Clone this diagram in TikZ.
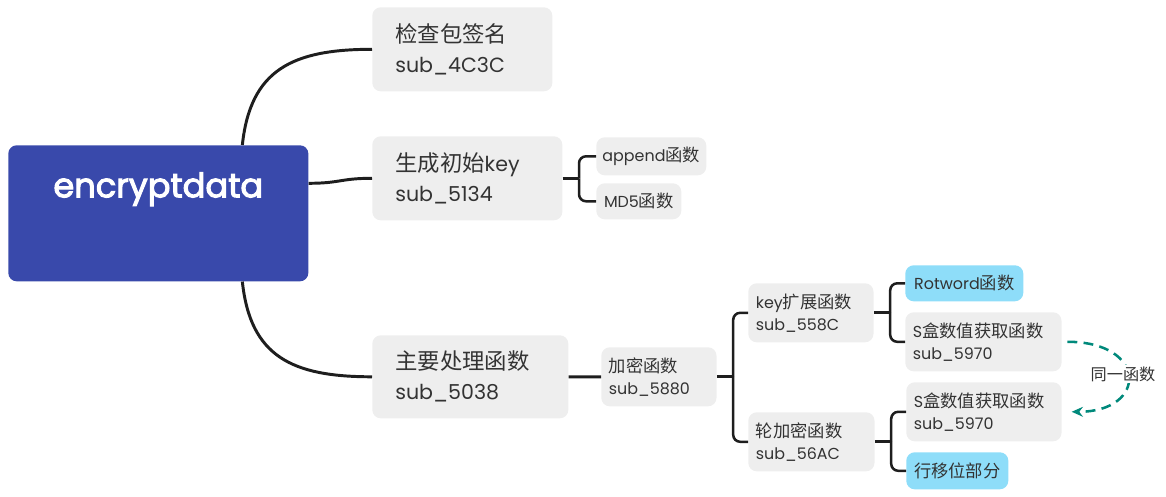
\documentclass[tikz,border=0pt]{standalone}
\usepackage{fontspec}
\setmainfont{Poppins}[Scale=0.92]
\newfontfamily\cjk{Noto Sans CJK SC}
\newfontfamily\rootfont{Poppins}[Scale=0.92, FakeBold=3]
\usetikzlibrary{arrows.meta}

\definecolor{rootblue}{HTML}{3949AB}
\definecolor{boxgray}{HTML}{EEEEEE}
\definecolor{leafblue}{HTML}{8EDDF9}
\definecolor{textgray}{HTML}{333333}
\definecolor{linedark}{HTML}{1E1E1E}
\definecolor{sameteal}{HTML}{00897B}

\begin{document}
\begin{tikzpicture}[
    x=0.025cm, y=-0.025cm,
    % --- Styles ---
    root box/.style={fill=rootblue, rounded corners=6pt, anchor=north west,
        text=white, font=\rootfont\fontsize{26pt}{30pt}\selectfont},
    % Two-line boxes, text flush left
    func box/.style={fill=boxgray, rounded corners=6pt, anchor=north west,
        text=textgray, align=left, inner ysep=0pt},
    big func/.style={func box, inner xsep=0.575cm,
        font=\fontsize{15.9pt}{21.3pt}\selectfont},
    small func/.style={func box, inner xsep=0.19cm,
        font=\fontsize{12.3pt}{15.6pt}\selectfont},
    % One-line leaves, text centred
    leaf box/.style={fill=boxgray, rounded corners=6pt, anchor=north west,
        text=textgray, inner sep=0pt, font=\fontsize{12.3pt}{15pt}\selectfont},
    hot leaf/.style={leaf box, fill=leafblue},
    branch line/.style={draw=linedark, line width=2.1pt},
    bracket line/.style={draw=linedark, line width=1.8pt, rounded corners=5pt},
    same line/.style={draw=sameteal, line width=1.8pt, dash pattern=on 7pt off 4.5pt,
        -{Stealth[length=8pt,width=7pt]}}
]

%================CANVAS================
\useasboundingbox (0,0) rectangle (1166,496);
%=====================================

% Root
\node[root box, minimum width=7.5cm, minimum height=3.4cm] (root) at (8,145)
    {\raisebox{0.4cm}[0pt][0pt]{encryptdata}};

% First level
\node[big func, text width=3.35cm, minimum height=2.1cm] (chk) at (372,7)
    {{\cjk 检查包签名}\\sub\_4C3C};
\node[big func, text width=3.6cm, minimum height=2.1cm] (gen) at (372,136)
    {{\cjk 生成初始}key\\sub\_5134};
\node[big func, text width=3.75cm, minimum height=2.075cm] (main) at (372,335)
    {{\cjk 主要处理函数}\\sub\_5038};

% Children of gen
\node[leaf box, minimum width=2.75cm, minimum height=0.95cm] (app) at (596,137)
    {append{\cjk 函数}};
\node[leaf box, minimum width=2.125cm, minimum height=0.9cm] (md5) at (596,183)
    {MD5{\cjk 函数}};

% Encryption chain
\node[small func, text width=2.5cm, minimum height=1.475cm] (enc) at (601,347)
    {{\cjk 加密函数}\\sub\_5880};
\node[small func, text width=2.75cm, minimum height=1.475cm] (key) at (748,283)
    {key{\cjk 扩展函数}\\sub\_558C};
\node[small func, text width=2.775cm, minimum height=1.475cm] (rnd) at (748,412)
    {{\cjk 轮加密函数}\\sub\_56AC};

% Leaves
\node[hot leaf, minimum width=2.95cm, minimum height=0.9cm] (rot) at (905,265)
    {Rotword{\cjk 函数}};
\node[small func, text width=3.525cm, minimum height=1.475cm] (sba) at (905,312)
    {S{\cjk 盒数值获取函数}\\sub\_5970};
\node[small func, text width=3.5cm, minimum height=1.475cm] (sbb) at (906,382)
    {S{\cjk 盒数值获取函数}\\sub\_5970};
\node[hot leaf, minimum width=2.55cm, minimum height=0.925cm] (shf) at (906,452)
    {{\cjk 行移位部分}};

% --- Root branches ---
\draw[branch line] ([xshift=2.1cm]root.north) .. controls +(8,-75) and +(-80,0) .. (chk.west);
\draw[branch line] ([yshift=0.75cm]root.east) .. controls +(32,0) and +(-32,0) .. (gen.west);
\draw[branch line] ([xshift=2.1cm]root.south) .. controls +(8,75) and +(-80,0) .. (main.west);
\draw[branch line] (main.east) -- (enc.west);

% --- Brackets ---
\foreach \p/\a/\b in {gen/app/md5, enc/key/rnd, key/rot/sba, rnd/sbb/shf} {
    \coordinate (\p J) at ([xshift=0.41cm]\p.east);
    \draw[branch line] (\p.east) -- (\p J);
    \draw[bracket line] (\p J) |- (\a.west);
    \draw[bracket line] (\p J) |- (\b.west);
}

% Same function marker
\draw[same line, shorten <=4pt, shorten >=7pt] (sba.east) .. controls +(86,0) and +(86,0) .. (sbb.east);
\node[fill=white, inner sep=1pt, text=textgray, font=\cjk\fontsize{11.5pt}{13pt}\selectfont]
    (same) at (1123,374) {同一函数};

\end{tikzpicture}
\end{document}
